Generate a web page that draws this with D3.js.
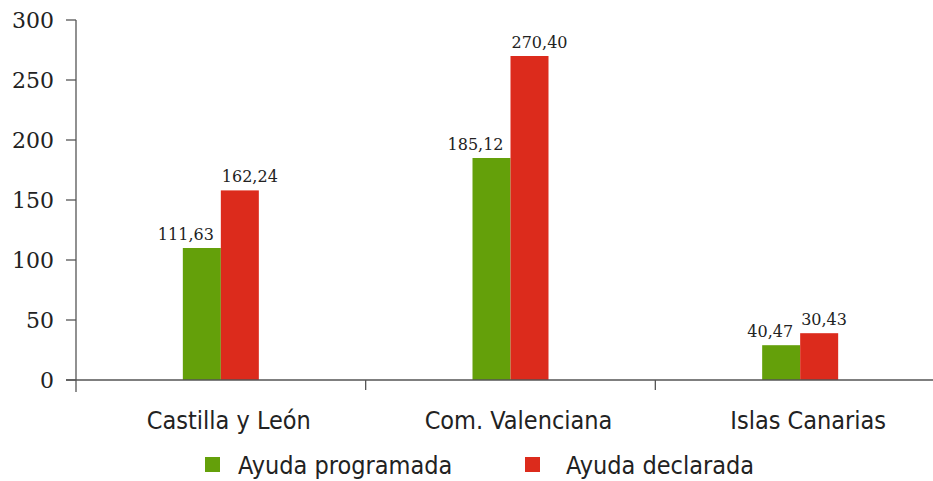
<!DOCTYPE html>
<html>
<head>
<meta charset="utf-8">
<script src="https://cdn.jsdelivr.net/npm/d3@7"></script>
<style>
  body { margin: 0; background: #fff; }
  svg { display: block; }
</style>
</head>
<body>
<svg id="chart"></svg>
<script>
const categories = ["Castilla y León", "Com. Valenciana", "Islas Canarias"];
const seriesNames = ["Ayuda programada", "Ayuda declarada"];
// bar heights as drawn in the picture
const programada = [110, 185, 29];
const declarada = [158, 270, 39];
// value labels as printed
const programadaLabels = ["111,63", "185,12", "40,47"];
const declaradaLabels = ["162,24", "270,40", "30,43"];
const yTicks = [0, 50, 100, 150, 200, 250, 300];

const width = 933;
const height = 481;
const green = "#64a00a";
const red = "#dc2b1c";
const axisColor = "#555";
const sansFont = "'DejaVu Sans Condensed', 'DejaVu Sans', sans-serif";

const svg = d3.select("#chart").attr("width", width).attr("height", height);

const y = d3.scaleLinear().domain([0, 300]).range([380, 20]);
const x0 = d3.scaleBand().domain(categories).range([76, 945]);
const x1 = d3.scaleBand().domain(seriesNames).range([-38, 38]);

// y axis
svg.append("line")
  .attr("x1", 76).attr("x2", 76)
  .attr("y1", y(300)).attr("y2", y(0) + 12)
  .attr("stroke", axisColor).attr("stroke-width", 1.3);

svg.append("g")
  .selectAll("line")
  .data(yTicks)
  .enter()
  .append("line")
  .attr("x1", 66).attr("x2", 76)
  .attr("y1", d => y(d)).attr("y2", d => y(d))
  .attr("stroke", axisColor).attr("stroke-width", 1.3);

svg.append("g")
  .selectAll("text")
  .data(yTicks)
  .enter()
  .append("text")
  .text(d => d)
  .attr("x", 54)
  .attr("y", d => y(d))
  .attr("dy", "0.36em")
  .attr("text-anchor", "end")
  .attr("font-family", "DejaVu Serif")
  .attr("font-size", 22)
  .attr("fill", "#222");

// bars
const rows = categories.map((c, i) => ({
  cat: c,
  vals: [
    { s: seriesNames[0], v: programada[i], label: programadaLabels[i], color: green },
    { s: seriesNames[1], v: declarada[i], label: declaradaLabels[i], color: red }
  ]
}));

const groups = svg.append("g")
  .selectAll("g")
  .data(rows)
  .enter()
  .append("g")
  .attr("transform", d => `translate(${x0(d.cat) + x0.bandwidth() / 2},0)`);

groups.selectAll("rect")
  .data(d => d.vals)
  .enter()
  .append("rect")
  .attr("x", d => x1(d.s))
  .attr("width", x1.bandwidth())
  .attr("y", d => y(d.v))
  .attr("height", d => y(0) - y(d.v))
  .attr("fill", d => d.color);

groups.selectAll("text")
  .data(d => d.vals)
  .enter()
  .append("text")
  .text(d => d.label)
  .attr("x", (d, i) => i === 0 ? x1(d.s) + x1.bandwidth() - 7 : x1(d.s) + 1)
  .attr("y", d => y(d.v) - 8)
  .attr("text-anchor", (d, i) => i === 0 ? "end" : "start")
  .attr("font-family", "DejaVu Serif")
  .attr("font-size", 16)
  .attr("fill", "#222");

// x axis
svg.append("line")
  .attr("x1", 66).attr("x2", width)
  .attr("y1", y(0)).attr("y2", y(0))
  .attr("stroke", axisColor).attr("stroke-width", 1.3);

svg.append("g")
  .selectAll("line")
  .data(categories.slice(1))
  .enter()
  .append("line")
  .attr("x1", d => x0(d)).attr("x2", d => x0(d))
  .attr("y1", y(0)).attr("y2", y(0) + 10)
  .attr("stroke", axisColor).attr("stroke-width", 1.3);

svg.append("g")
  .selectAll("text")
  .data(categories)
  .enter()
  .append("text")
  .text(d => d)
  .attr("x", d => x0(d) + x0.bandwidth() / 2 + 8)
  .attr("y", 429)
  .attr("text-anchor", "middle")
  .attr("font-family", sansFont)
  .attr("font-stretch", "condensed")
  .attr("font-size", 25)
  .attr("fill", "#222");

// legend
const legendX = [205, 525];
const legend = svg.append("g")
  .selectAll("g")
  .data(seriesNames)
  .enter()
  .append("g")
  .attr("transform", (d, i) => `translate(${legendX[i]},457)`);

legend.append("rect")
  .attr("width", 15).attr("height", 15)
  .attr("fill", (d, i) => i === 0 ? green : red);

legend.append("text")
  .text(d => d)
  .attr("x", (d, i) => i === 0 ? 33 : 41)
  .attr("y", 17)
  .attr("font-family", sansFont)
  .attr("font-stretch", "condensed")
  .attr("font-size", 25)
  .attr("fill", "#222");
</script>
</body>
</html>
